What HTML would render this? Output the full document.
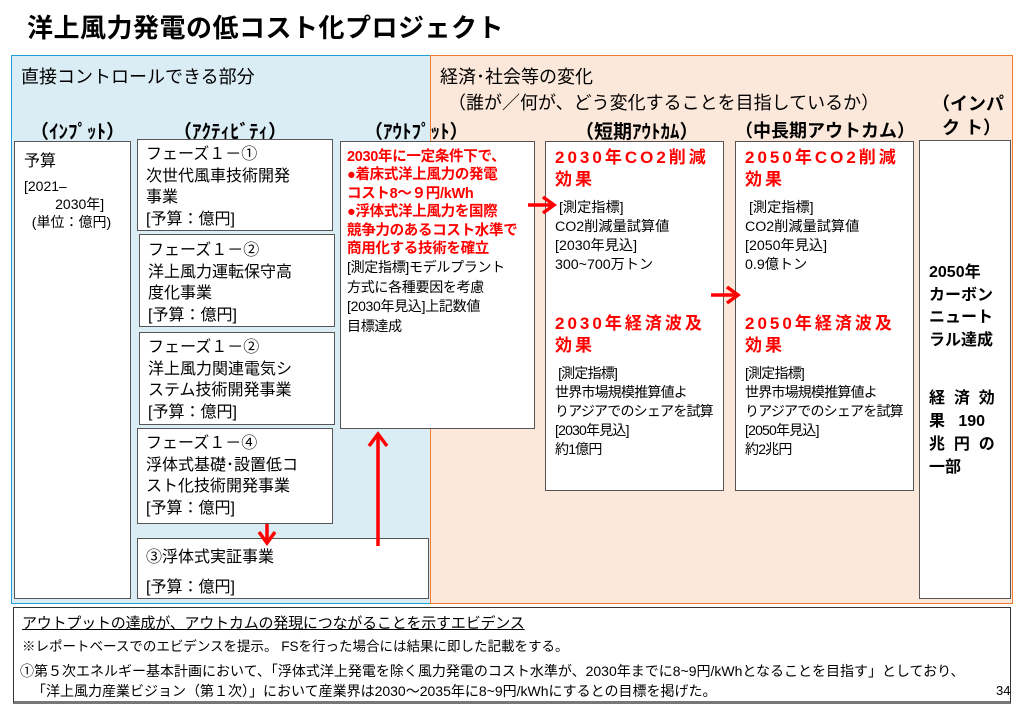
<!DOCTYPE html>
<html><head><meta charset="utf-8"><style>
*{margin:0;padding:0;box-sizing:border-box}
body{width:1024px;height:709px;background:#fff;position:relative;overflow:hidden;font-family:"Liberation Sans","Noto Sans CJK JP",sans-serif;color:#000}
.a{position:absolute}
.box{position:absolute;background:#fff;border:1.5px solid #555}
.t{position:absolute;white-space:nowrap}
.r{color:#f00;font-weight:bold}
.hd{font-weight:bold;font-size:19px;letter-spacing:0}
</style></head><body>
<div class="t" style="left:27px;top:8px;font-size:26px;font-weight:bold;letter-spacing:0.5px">洋上風力発電の低コスト化プロジェクト</div>

<div class="a" style="left:11px;top:55px;width:420px;height:549px;background:#daedf5;border:1.5px solid #1fa0d8"></div>
<div class="a" style="left:430px;top:55px;width:583px;height:549px;background:#fce8da;border:1.5px solid #f47a30"></div>

<div class="t" style="left:21px;top:63px;font-size:18px">直接コントロールできる部分</div>
<div class="t" style="left:440px;top:63px;font-size:18px">経済･社会等の変化</div>
<div class="t" style="left:448px;top:89px;font-size:18px">（誰が／何が、どう変化することを目指しているか）</div>

<div class="t hd" style="left:30px;top:117px">（ｲﾝﾌﾟｯﾄ）</div>
<div class="t hd" style="left:173px;top:117px">（ｱｸﾃｨﾋﾞﾃｨ）</div>
<div class="t hd" style="left:364px;top:117px">（ｱｳﾄﾌﾟｯﾄ）</div>
<div class="t hd" style="left:575px;top:117px">（短期ｱｳﾄｶﾑ）</div>
<div class="t hd" style="left:735px;top:117px;font-size:18px">（中長期アウトカム）</div>
<div class="t hd" style="left:932px;top:92px;line-height:24px;font-size:18px">（インパ<br>&nbsp;&nbsp;ク ト）</div>

<div class="box" style="left:14px;top:141px;width:117px;height:458px"></div>
<div class="t" style="left:24px;top:147px;font-size:16px">予算</div>
<div class="t" style="left:24px;top:177px;font-size:14px;line-height:18px">[2021–<br>&nbsp;&nbsp;&nbsp;&nbsp;&nbsp;&nbsp;&nbsp;&nbsp;2030年]<br>&nbsp;&nbsp;(単位：億円)</div>

<div class="box" style="left:137px;top:139px;width:196px;height:92px"></div>
<div class="t" style="left:146px;top:144px;font-size:16px;line-height:21.5px">フェーズ１－①<br>次世代風車技術開発<br>事業<br>[予算：億円]</div>
<div class="box" style="left:139px;top:234px;width:196px;height:93px"></div>
<div class="t" style="left:148px;top:240px;font-size:16px;line-height:21.5px">フェーズ１－②<br>洋上風力運転保守高<br>度化事業<br>[予算：億円]</div>
<div class="box" style="left:139px;top:332px;width:196px;height:93px"></div>
<div class="t" style="left:148px;top:337px;font-size:16px;line-height:21.5px">フェーズ１－②<br>洋上風力関連電気シ<br>ステム技術開発事業<br>[予算：億円]</div>
<div class="box" style="left:137px;top:428px;width:196px;height:96px"></div>
<div class="t" style="left:146px;top:433px;font-size:16px;line-height:21.5px">フェーズ１－④<br>浮体式基礎･設置低コ<br>スト化技術開発事業<br>[予算：億円]</div>
<div class="box" style="left:137px;top:538px;width:292px;height:61px"></div>
<div class="t" style="left:146px;top:543px;font-size:16px;line-height:30px">③浮体式実証事業<br>[予算：億円]</div>

<div class="box" style="left:340px;top:141px;width:195px;height:288px"></div>
<div class="t" style="left:347px;top:148px;font-size:14.5px;line-height:18.4px;letter-spacing:-0.3px"><span class="r">2030年に一定条件下で、<br>●着床式洋上風力の発電<br>コスト8～９円/kWh<br>●浮体式洋上風力を国際<br>競争力のあるコスト水準で<br>商用化する技術を確立</span><br><span style="font-size:14px">[測定指標]モデルプラント<br>方式に各種要因を考慮<br>[2030年見込]上記数値<br>目標達成</span></div>

<div class="box" style="left:545px;top:141px;width:179px;height:350px"></div>
<div class="t r" style="left:555px;top:147px;font-size:17px;line-height:22px;letter-spacing:3px">2030年CO2削減<br>効果</div>
<div class="t" style="left:555px;top:199px;font-size:14.2px;line-height:19px">&nbsp;[測定指標]<br>CO2削減量試算値<br>[2030年見込]<br>300~700万トン</div>
<div class="t r" style="left:555px;top:313px;font-size:17px;line-height:22px;letter-spacing:3px">2030年経済波及<br>効果</div>
<div class="t" style="left:555px;top:364px;font-size:14px;line-height:19px;letter-spacing:-0.8px">&nbsp;[測定指標]<br>世界市場規模推算値よ<br>りアジアでのシェアを試算<br>[2030年見込]<br>約1億円</div>

<div class="box" style="left:735px;top:141px;width:179px;height:350px"></div>
<div class="t r" style="left:745px;top:147px;font-size:17px;line-height:22px;letter-spacing:3px">2050年CO2削減<br>効果</div>
<div class="t" style="left:745px;top:199px;font-size:14.2px;line-height:19px">&nbsp;[測定指標]<br>CO2削減量試算値<br>[2050年見込]<br>0.9億トン</div>
<div class="t r" style="left:745px;top:313px;font-size:17px;line-height:22px;letter-spacing:3px">2050年経済波及<br>効果</div>
<div class="t" style="left:745px;top:364px;font-size:14px;line-height:19px;letter-spacing:-0.8px">[測定指標]<br>世界市場規模推算値よ<br>りアジアでのシェアを試算<br>[2050年見込]<br>約2兆円</div>

<div class="box" style="left:919px;top:140px;width:92px;height:459px"></div>
<div class="t" style="left:929px;top:262px;font-size:16px;font-weight:bold;line-height:22.5px">2050年<br>カーボン<br>ニュート<br>ラル達成</div>
<div class="t" style="left:929px;top:387px;font-size:16px;font-weight:bold;line-height:23px;width:72px;white-space:normal">経&nbsp;&nbsp;済&nbsp;&nbsp;効<br>果&nbsp;&nbsp;&nbsp;190<br>兆&nbsp;&nbsp;円&nbsp;&nbsp;の<br>一部</div>

<svg class="a" style="left:0;top:0" width="1024" height="709">
<g stroke="#f00" stroke-width="3.5" fill="none">
<line x1="267" y1="524" x2="267" y2="542"/><polyline points="259,532 267,543 275,532"/>
<line x1="378" y1="546" x2="378" y2="434"/><polyline points="369,446 378,434 387,446"/>
<line x1="528" y1="205" x2="553" y2="205"/><polyline points="543,197 554,205 543,213"/>
<line x1="711" y1="295" x2="737" y2="295"/><polyline points="727,287 738,295 727,303"/>
</g></svg>

<div class="a" style="left:13px;top:607px;width:998px;height:97px;border:1.5px solid #333;border-bottom:3px solid #777;background:#fff"></div>
<div class="t" style="left:22px;top:612px;font-size:15px;text-decoration:underline;letter-spacing:-0.2px">アウトプットの達成が、アウトカムの発現につながることを示すエビデンス</div>
<div class="t" style="left:22px;top:635px;font-size:13.5px">※レポートベースでのエビデンスを提示。 FSを行った場合には結果に即した記載をする。</div>
<div class="t" style="left:20px;top:661px;font-size:14px;transform:scaleX(1.0);transform-origin:left">①第５次エネルギー基本計画において、「浮体式洋上発電を除く風力発電のコスト水準が、2030年までに8~9円/kWhとなることを目指す」としており、</div>
<div class="t" style="left:32px;top:681px;font-size:14px;transform:scaleX(1.0);transform-origin:left">「洋上風力産業ビジョン（第１次）」において産業界は2030～2035年に8~9円/kWhにするとの目標を掲げた。</div>
<div class="t" style="left:996px;top:683px;font-size:13px">34</div>
</body></html>
